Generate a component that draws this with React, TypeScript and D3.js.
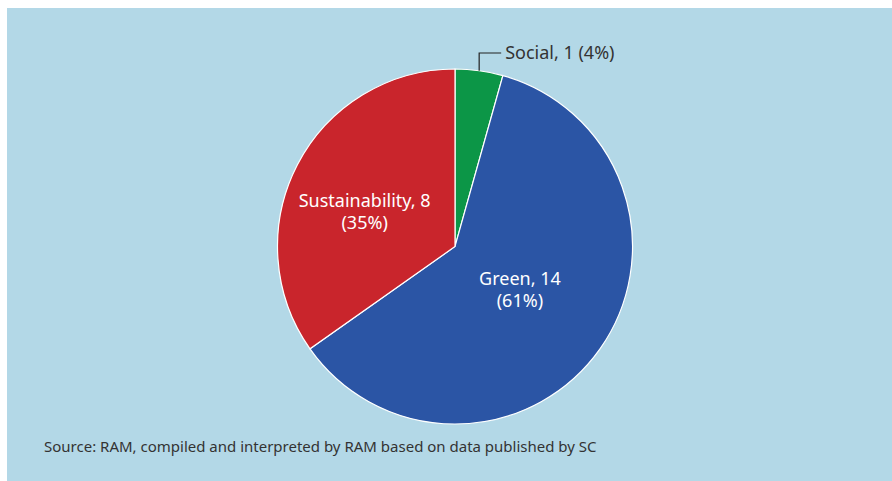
import React from "react";
import * as d3 from "d3";

type Slice = {
    name: string;
    value: number;
};

const categories = ["Social", "Green", "Sustainability"];
const counts = [1, 14, 8];
const sliceColors = ["#0c9647", "#2b55a5", "#c9252c"];
const sourceNote = "Source: RAM, compiled and interpreted by RAM based on data published by SC";

const data: Slice[] = categories.map((name, i) => ({ name, value: counts[i] }));

const width = 892;
const height = 481;
const cx = 455;
const cy = 246.5;
const radius = 177.5;

export default function App() {
    const total = d3.sum(data, (d) => d.value);
    const pie = d3
        .pie<Slice>()
        .value((d) => d.value)
        .sort(null);
    const arcs = pie(data);

    const arc = d3.arc<d3.PieArcDatum<Slice>>().innerRadius(0).outerRadius(radius);
    const edgeArc = d3.arc<d3.PieArcDatum<Slice>>().innerRadius(radius).outerRadius(radius);
    const labelArc = d3.arc<d3.PieArcDatum<Slice>>().innerRadius(77).outerRadius(77);

    const pct = (v: number) => `${Math.round((v / total) * 100)}%`;

    // inside labels nudged like the original
    const nudge: Record<string, [number, number]> = {
        Green: [2, 0],
        Sustainability: [-22, 2],
    };

    return (
        <svg
            width={width}
            height={height}
            style={{ position: "absolute", left: 0, top: 0, fontFamily: "'Noto Sans', sans-serif" }}
        >
            <rect x={7} y={8} width={width - 7} height={height - 8} fill="#b3d8e7" />
            <g transform={`translate(${cx},${cy})`}>
                {arcs.map((a, i) => (
                    <path key={i} d={arc(a) ?? ""} fill={sliceColors[i]} stroke="#ffffff" strokeWidth={1.2} />
                ))}
                {arcs.map((a, i) => {
                    if (a.data.name === "Social") {
                        const [ex, ey] = edgeArc.centroid(a);
                        const ty = -193.5;
                        return (
                            <g key={i}>
                                <path
                                    d={`M${ex},${ey}V${ty}H${ex + 22}`}
                                    fill="none"
                                    stroke="#222"
                                    strokeWidth={1.2}
                                />
                                <text x={ex + 26} y={ty} dy="0.35em" fontSize={18} fill="#333">
                                    {`${a.data.name}, ${a.data.value} (${pct(a.data.value)})`}
                                </text>
                            </g>
                        );
                    }
                    const [lx, ly] = labelArc.centroid(a);
                    const [nx, ny] = nudge[a.data.name];
                    return (
                        <g key={i} fontSize={18} fill="#ffffff" textAnchor="middle">
                            <text x={lx + nx} y={ly + ny} dy="-0.35em">
                                {`${a.data.name}, ${a.data.value}`}
                            </text>
                            <text x={lx + nx} y={ly + ny} dy="0.9em">
                                {`(${pct(a.data.value)})`}
                            </text>
                        </g>
                    );
                })}
            </g>
            <text x={44} y={447} dy="0.35em" fontSize={15} fill="#333">
                {sourceNote}
            </text>
        </svg>
    );
}
